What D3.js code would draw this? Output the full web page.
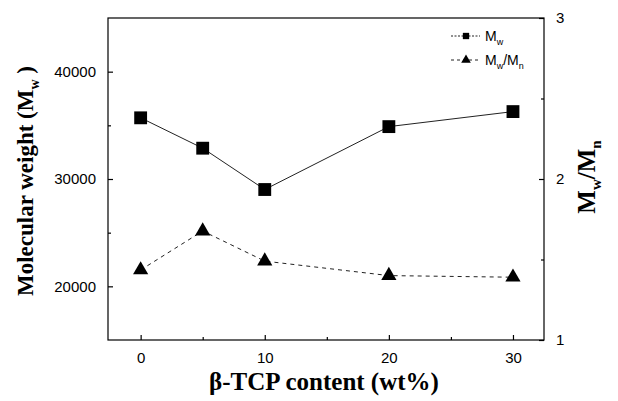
<!DOCTYPE html>
<html><head><meta charset="utf-8">
<script src="https://cdn.jsdelivr.net/npm/d3@7"></script>
<style>body{margin:0;background:#fff}svg{display:block}</style>
</head><body>
<script>
const tcp = [0, 5, 10, 20, 30];
const mw = [35700, 32870, 29020, 34880, 36280];
const pdi = [1.435, 1.677, 1.49, 1.40, 1.39];
const leftTicks = [20000, 30000, 40000];
const leftMinor = [25000, 35000];
const rightTicks = [1, 2, 3];
const rightMinor = [1.5, 2.5];
const xTicks = [0, 10, 20, 30];
const xMinor = [5, 15, 25];

const W = 618, H = 401;
const L = 108, R = 544, T = 18, B = 340;
const svg = d3.select("body").append("svg").attr("width", W).attr("height", H);

const x = d3.scaleLinear().domain([-2.63, 32.5]).range([L, R]);
const yL = d3.scaleLinear().domain([15000, 45000]).range([B, T]);
const yR = d3.scaleLinear().domain([1, 3]).range([B, T]);

const sans = "Liberation Sans, Arial, sans-serif";
const serif = "Liberation Serif, Times New Roman, serif";

// frame
svg.append("rect").attr("x", L).attr("y", T).attr("width", R - L).attr("height", B - T)
  .attr("fill", "none").attr("stroke", "#000").attr("stroke-width", 1.2);

// axes (ticks inward)
function styleAxis(g) {
  g.select(".domain").remove();
  g.selectAll("line").attr("stroke", "#000").attr("stroke-width", 1.2);
  g.selectAll("text").attr("font-family", sans).attr("font-size", 15).attr("fill", "#000");
}
const gl = svg.append("g").attr("transform", `translate(${L},0)`)
  .call(d3.axisLeft(yL).tickValues(leftTicks).tickSize(-5).tickPadding(12).tickFormat(d3.format("d")));
styleAxis(gl);
const glm = svg.append("g").attr("transform", `translate(${L},0)`)
  .call(d3.axisLeft(yL).tickValues(leftMinor).tickSize(-3).tickFormat(""));
styleAxis(glm);

const gr = svg.append("g").attr("transform", `translate(${R},0)`)
  .call(d3.axisRight(yR).tickValues(rightTicks).tickSize(-5).tickPadding(12).tickFormat(d3.format("d")));
styleAxis(gr);
const grm = svg.append("g").attr("transform", `translate(${R},0)`)
  .call(d3.axisRight(yR).tickValues(rightMinor).tickSize(-3).tickFormat(""));
styleAxis(grm);

const gx = svg.append("g").attr("transform", `translate(0,${B})`)
  .call(d3.axisBottom(x).tickValues(xTicks).tickSize(-5).tickPadding(12).tickFormat(d3.format("d")));
styleAxis(gx);
const gxm = svg.append("g").attr("transform", `translate(0,${B})`)
  .call(d3.axisBottom(x).tickValues(xMinor).tickSize(-3).tickFormat(""));
styleAxis(gxm);

// lines
const lineMw = d3.line().x((d, i) => x(tcp[i])).y(d => yL(d));
svg.append("path").datum(mw).attr("d", lineMw).attr("fill", "none")
  .attr("stroke", "#222").attr("stroke-width", 1);
const linePdi = d3.line().x((d, i) => x(tcp[i])).y(d => yR(d));
svg.append("path").datum(pdi).attr("d", linePdi).attr("fill", "none")
  .attr("stroke", "#222").attr("stroke-width", 1).attr("stroke-dasharray", "4,4");

// markers
const sq = d3.symbol().type(d3.symbolSquare).size(165);
const tri = d3.symbol().type(d3.symbolTriangle).size(100);
svg.append("g").selectAll("path").data(mw).join("path")
  .attr("d", sq).attr("transform", (d, i) => `translate(${x(tcp[i])},${yL(d)})`).attr("fill", "#000");
svg.append("g").selectAll("path").data(pdi).join("path")
  .attr("d", tri).attr("transform", (d, i) => `translate(${x(tcp[i])},${yR(d)})`).attr("fill", "#000");

// legend
const lg = svg.append("g");
const lx0 = 451, lx1 = 480, lxm = 466, ly1 = 36, ly2 = 60;
lg.append("line").attr("x1", lx0).attr("x2", lx1).attr("y1", ly1).attr("y2", ly1)
  .attr("stroke", "#222").attr("stroke-width", 1).attr("stroke-dasharray", "2,1.5");
lg.append("path").attr("d", d3.symbol().type(d3.symbolSquare).size(40)).attr("transform", `translate(${lxm},${ly1})`);
lg.append("line").attr("x1", lx0).attr("x2", lx1).attr("y1", ly2).attr("y2", ly2)
  .attr("stroke", "#222").attr("stroke-width", 1).attr("stroke-dasharray", "3,3");
lg.append("path").attr("d", d3.symbol().type(d3.symbolTriangle).size(40)).attr("transform", `translate(${lxm},${ly2})`);
const t1 = lg.append("text").attr("x", 485).attr("y", ly1 + 5).attr("font-family", sans).attr("font-size", 14);
t1.append("tspan").text("M");
t1.append("tspan").attr("font-size", 9).attr("dy", 4).text("w");
const t2 = lg.append("text").attr("x", 485).attr("y", ly2 + 5).attr("font-family", sans).attr("font-size", 14);
t2.append("tspan").text("M");
t2.append("tspan").attr("font-size", 9).attr("dy", 4).text("w");
t2.append("tspan").attr("dy", -4).text("/M");
t2.append("tspan").attr("font-size", 9).attr("dy", 4).text("n");

// axis titles
svg.append("text").attr("x", (L + R) / 2 - 2).attr("y", 390).attr("text-anchor", "middle")
  .attr("font-family", serif).attr("font-weight", "bold").attr("font-size", 25).text("β-TCP content (wt%)");

const ytl = svg.append("text").attr("transform", `translate(33,${(T + B) / 2 + 2}) rotate(-90)`)
  .attr("text-anchor", "middle").attr("font-family", serif).attr("font-weight", "bold").attr("font-size", 23);
ytl.append("tspan").text("Molecular weight (M");
ytl.append("tspan").attr("font-size", 14).attr("dy", 6).text("w");
ytl.append("tspan").attr("dy", -6).text(" )");

const ytr = svg.append("text").attr("transform", `translate(595,${(T + B) / 2 - 2}) rotate(-90)`)
  .attr("text-anchor", "middle").attr("font-family", serif).attr("font-weight", "bold").attr("font-size", 25);
ytr.append("tspan").text("M");
ytr.append("tspan").attr("font-size", 15).attr("dy", 6).text("w");
ytr.append("tspan").attr("dy", -6).text("/M");
ytr.append("tspan").attr("font-size", 15).attr("dy", 6).text("n");
</script>
</body></html>
